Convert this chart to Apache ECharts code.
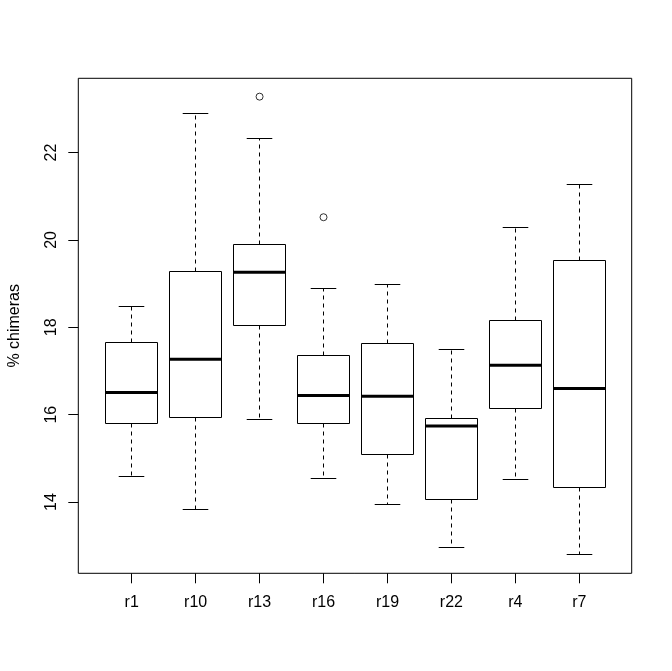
<!DOCTYPE html>
<html>
<head>
<meta charset="utf-8">
<script src="https://cdn.jsdelivr.net/npm/echarts@6/dist/echarts.min.js"></script>
<style>
  html, body { margin: 0; padding: 0; background: #fff; }
  #chart { width: 672px; height: 671px; }
</style>
</head>
<body>
<div id="chart"></div>
<script>
// groups on the x axis
var categories = ['r1', 'r10', 'r13', 'r16', 'r19', 'r22', 'r4', 'r7'];
// box stats per group
var lowWhisker  = [14.59, 13.83, 15.89, 14.54, 13.94, 12.95, 14.51, 12.79];
var q1          = [15.80, 15.94, 18.05, 15.80, 15.09, 14.06, 16.14, 14.33];
var median      = [16.51, 17.27, 19.26, 16.44, 16.42, 15.74, 17.13, 16.60];
var q3          = [17.66, 19.28, 19.90, 17.36, 17.63, 15.91, 18.16, 19.54];
var highWhisker = [18.47, 22.89, 22.33, 18.89, 18.99, 17.50, 20.29, 21.26];
var outliers = [['r13', 23.28], ['r16', 20.52]];
var yTicks = [14, 16, 18, 20, 22];
var yMin = 12.37, yMax = 23.70;

var chart = echarts.init(document.getElementById('chart'), null, { renderer: 'canvas' });

var boxData = categories.map(function (c, i) {
    return [i, lowWhisker[i], q1[i], median[i], q3[i], highWhisker[i]];
});

var crisp = function (v) { return Math.round(v - 0.5) + 0.5; };

var renderBox = function (params, api) {
    var i = api.value(0);
    var cx = crisp(api.coord([i, 0])[0]);
    var bw = api.size([1, 0])[0];
    var half = bw * 0.4;
    var cap = bw * 0.2;
    var yLo = crisp(api.coord([i, api.value(1)])[1]);
    var yQ1 = crisp(api.coord([i, api.value(2)])[1]);
    var yMed = api.coord([i, api.value(3)])[1];
    var yQ3 = crisp(api.coord([i, api.value(4)])[1]);
    var yHi = crisp(api.coord([i, api.value(5)])[1]);
    var solid = { stroke: '#000', lineWidth: 1 };
    var dashed = { stroke: '#000', lineWidth: 1, lineDash: [4, 4] };
    var x0 = crisp(cx - half), x1 = crisp(cx + half);
    return {
        type: 'group',
        children: [
            { type: 'line', shape: { x1: cx, y1: yQ3, x2: cx, y2: yHi }, style: dashed },
            { type: 'line', shape: { x1: cx, y1: yQ1, x2: cx, y2: yLo }, style: dashed },
            { type: 'line', shape: { x1: cx - cap, y1: yHi, x2: cx + cap, y2: yHi }, style: solid },
            { type: 'line', shape: { x1: cx - cap, y1: yLo, x2: cx + cap, y2: yLo }, style: solid },
            { type: 'rect', shape: { x: x0, y: yQ3, width: x1 - x0, height: yQ1 - yQ3 },
              style: { fill: '#fff', stroke: '#000', lineWidth: 1 } },
            { type: 'line', shape: { x1: x0, y1: yMed, x2: x1, y2: yMed }, style: { stroke: '#000', lineWidth: 3 } }
        ]
    };
};

var font = 'Liberation Sans, Arial, sans-serif';

var option = {
    animation: false,
    backgroundColor: '#fff',
    textStyle: { fontFamily: font },
    grid: [
        // outer frame, R style box
        { left: 78.3, right: 40.3, top: 78.3, bottom: 97.7, show: true, containLabel: false,
          outerBoundsMode: 'none',
          borderColor: '#000', borderWidth: 1, backgroundColor: 'transparent' },
        // data area, narrower so the category bands are 64px
        { left: 99.7, right: 60.7, top: 78.3, bottom: 97.7, containLabel: false, outerBoundsMode: 'none' }
    ],
    xAxis: [
        { gridIndex: 0, type: 'value', show: false, min: 0, max: 1 },
        {
            gridIndex: 1, type: 'category', data: categories,
            axisLine: { show: false },
            axisTick: { show: true, alignWithLabel: true, length: 10, lineStyle: { color: '#000', width: 1 } },
            axisLabel: { color: '#000', fontSize: 16, fontFamily: font, margin: 21 },
            splitLine: { show: false }
        }
    ],
    yAxis: [
        {
            gridIndex: 0, type: 'value', min: yMin, max: yMax,
            name: '% chimeras', nameLocation: 'middle', nameGap: 56, nameRotate: 90,
            nameTextStyle: { color: '#000', fontSize: 16, fontFamily: font },
            axisLine: { show: false },
            axisTick: { show: true, length: 10, customValues: yTicks, lineStyle: { color: '#000', width: 1 } },
            axisLabel: { color: '#000', fontSize: 16, fontFamily: font, rotate: 90, margin: 19, customValues: yTicks },
            splitLine: { show: false }
        },
        { gridIndex: 1, type: 'value', min: yMin, max: yMax, show: false, splitLine: { show: false } }
    ],
    series: [
        {
            type: 'custom',
            xAxisIndex: 1, yAxisIndex: 1,
            renderItem: renderBox,
            encode: { x: 0, y: [1, 2, 3, 4, 5] },
            data: boxData
        },
        {
            type: 'scatter',
            xAxisIndex: 1, yAxisIndex: 1,
            symbol: 'circle', symbolSize: 7,
            itemStyle: { color: '#fff', borderColor: '#000', borderWidth: 1 },
            data: outliers
        }
    ]
};

chart.setOption(option);
window.addEventListener('resize', chart.resize);
</script>
</body>
</html>
